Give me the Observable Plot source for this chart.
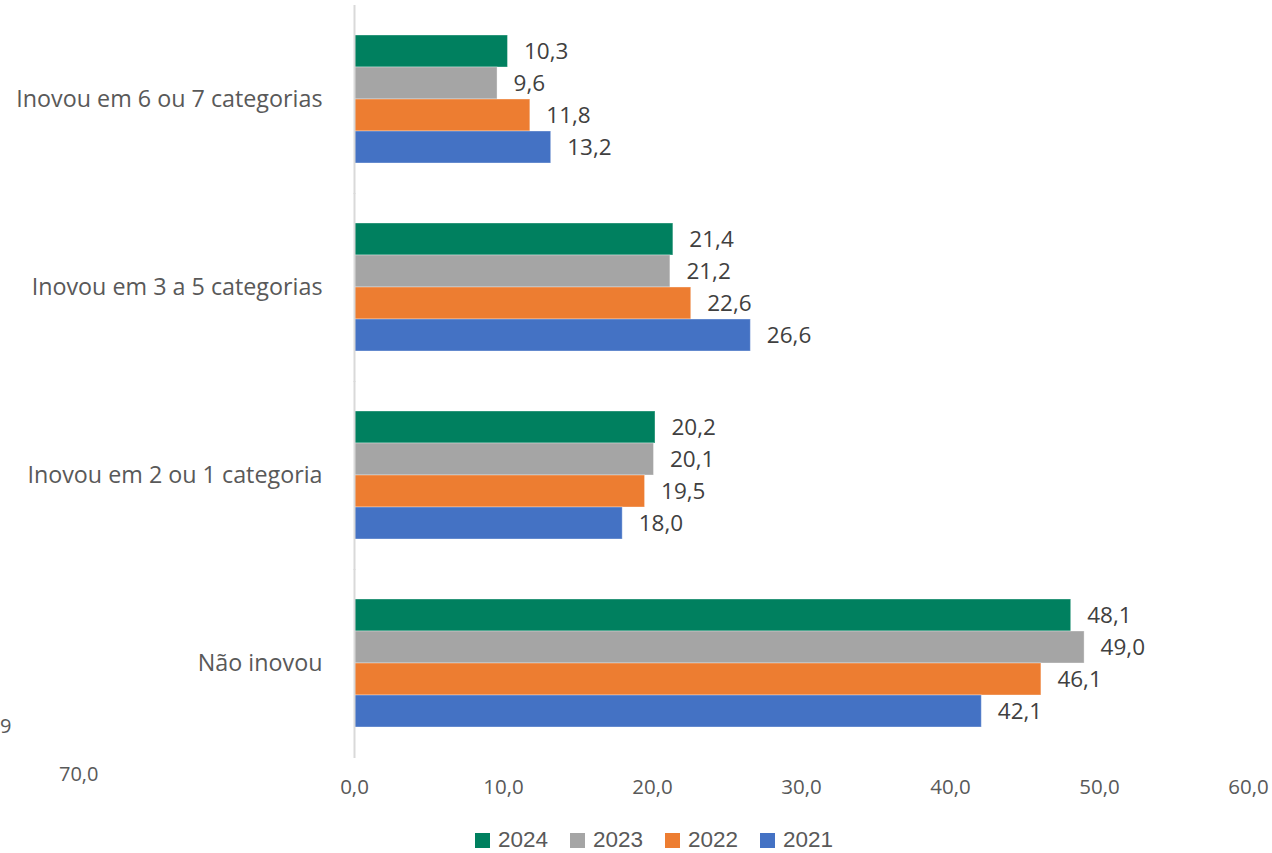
<!DOCTYPE html>
<html>
<head>
<meta charset="utf-8">
<script src="https://cdn.jsdelivr.net/npm/d3@7"></script>
<script src="https://cdn.jsdelivr.net/npm/@observablehq/plot@0.6"></script>
<style>
  html, body { margin: 0; padding: 0; background: #fff; }
  body { width: 1272px; height: 853px; position: relative; overflow: hidden; font-family: "Open Sans", sans-serif; }
  #legend { position: absolute; top: 828px; left: 0; width: 1272px; height: 24px; display: flex; justify-content: center; padding-left: 36px; box-sizing: border-box; font-family: "Liberation Sans", Arial, sans-serif; font-size: 22.5px; line-height: 24px; color: #595959; }
  .item { display: flex; align-items: center; margin: 0 11px; height: 24px; }
  .sw { width: 15px; height: 15px; margin-right: 8px; }
  .stray { position: absolute; color: #595959; font-size: 20px; line-height: 1; }
</style>
</head>
<body>
<div id="chart"></div>
<div id="legend"></div>
<span class="stray" style="left:0px; top:716px;">9</span>
<span class="stray" style="left:59px; top:764px;">70,0</span>
<script>
const categories = ["Inovou em 6 ou 7 categorias", "Inovou em 3 a 5 categorias", "Inovou em 2 ou 1 categoria", "Não inovou"];
const years = ["2024", "2023", "2022", "2021"];
const values2024 = [10.3, 21.4, 20.2, 48.1];
const values2023 = [9.6, 21.2, 20.1, 49.0];
const values2022 = [11.8, 22.6, 19.5, 46.1];
const values2021 = [13.2, 26.6, 18.0, 42.1];
const colors = ["#00805F", "#A5A5A5", "#ED7D31", "#4472C4"];
const xTicks = [0, 10, 20, 30, 40, 50, 60];

const series = [values2024, values2023, values2022, values2021];
const data = [];
categories.forEach((c, i) => years.forEach((y, j) => data.push({cat: c, year: y, value: series[j][i]})));

const fmt = d => d.toFixed(1).replace(".", ",");

const chart = Plot.plot({
  width: 1272,
  height: 820,
  marginLeft: 354,
  marginRight: 24,
  marginTop: 5,
  marginBottom: 63,
  style: {fontFamily: "Open Sans, sans-serif", color: "#595959", background: "#fff"},
  x: {domain: [0, 60]},
  fy: {domain: categories, paddingInner: 0.32, paddingOuter: 0.16},
  y: {domain: years, padding: 0, axis: null},
  color: {domain: years, range: colors},
  marks: [
    Plot.barX(data, {fy: "cat", y: "year", x: "value", fill: "year", stroke: "#fff", strokeOpacity: 0.35, strokeWidth: 1}),
    Plot.text(data, {fy: "cat", y: "year", x: "value", text: d => fmt(d.value), dx: 16, textAnchor: "start", fontSize: 22.5, fill: "#404040"}),
    Plot.ruleX([0], {stroke: "#d9d9d9", strokeWidth: 2, insetTop: -30, insetBottom: -31}),
    Plot.axisFy({anchor: "left", tickSize: 0, tickPadding: 32, fontSize: 23.3, label: null}),
    Plot.axisX({ticks: xTicks, tickFormat: fmt, tickSize: 0, tickPadding: 52, fontSize: 20.5, label: null})
  ]
});
document.getElementById("chart").appendChild(chart);

const legend = document.getElementById("legend");
years.forEach((y, i) => {
  const item = document.createElement("div");
  item.className = "item";
  const sw = document.createElement("span");
  sw.className = "sw";
  sw.style.background = colors[i];
  item.appendChild(sw);
  item.appendChild(document.createTextNode(y));
  legend.appendChild(item);
});
</script>
</body>
</html>
